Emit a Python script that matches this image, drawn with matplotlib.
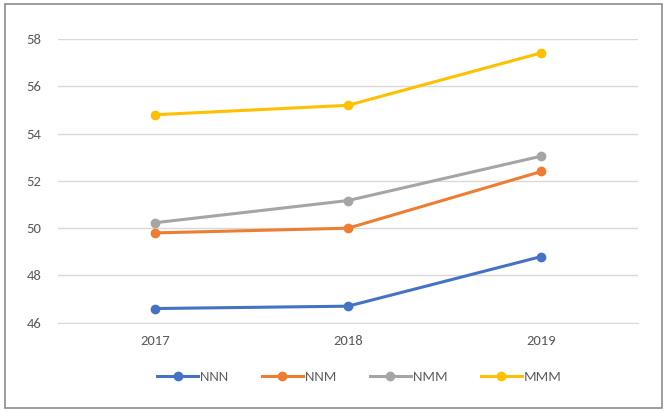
import matplotlib
matplotlib.use('Agg')
import matplotlib.pyplot as plt
from matplotlib.patches import Rectangle

years = ['2017', '2018', '2019']
nnn = [46.6, 46.7, 48.8]
nnm = [49.8, 50.0, 52.4]
nmm = [50.23, 51.17, 53.05]
mmm = [54.8, 55.2, 57.42]

series = [('NNN', nnn, '#4472C4'),
          ('NNM', nnm, '#ED7D31'),
          ('NMM', nmm, '#A5A5A5'),
          ('MMM', mmm, '#FFC000')]

plt.rcParams['font.family'] = ['Calibri', 'Carlito', 'Liberation Sans', 'DejaVu Sans']

fig = plt.figure(figsize=(6.67, 4.12), dpi=100)
ax = fig.add_axes([0.087, 0.2167, 0.8695, 0.6883])

x = list(range(len(years)))
for name, vals, col in series:
    ax.plot(x, vals, color=col, lw=2.2, marker='o', ms=6, label=name)

ax.set_xlim(-0.5, 2.5)
ax.set_ylim(46, 58)
ax.set_yticks(range(46, 59, 2))
ax.set_xticks(x)
ax.set_xticklabels(years)
ax.grid(axis='y', color='#D9D9D9', lw=1)
ax.set_axisbelow(True)
for s in ['top', 'right', 'left']:
    ax.spines[s].set_visible(False)
ax.spines['bottom'].set_color('#D9D9D9')
ax.tick_params(length=0, colors='#595959', labelsize=10.5)
ax.tick_params(axis='y', pad=12)
ax.tick_params(axis='x', pad=9)

ax.legend(loc='center', bbox_to_anchor=(0.52, -0.19), ncol=4, frameon=False,
          fontsize=10.5, labelcolor='#595959', handlelength=2.8, handletextpad=0.15,
          columnspacing=2.3)

fig.patches.append(Rectangle((5 / 667, 4 / 412), 657 / 667, 404 / 412,
                             transform=fig.transFigure, fill=False,
                             edgecolor='#8C8C8C', lw=1.2))

fig.savefig('out.png', dpi=100)
